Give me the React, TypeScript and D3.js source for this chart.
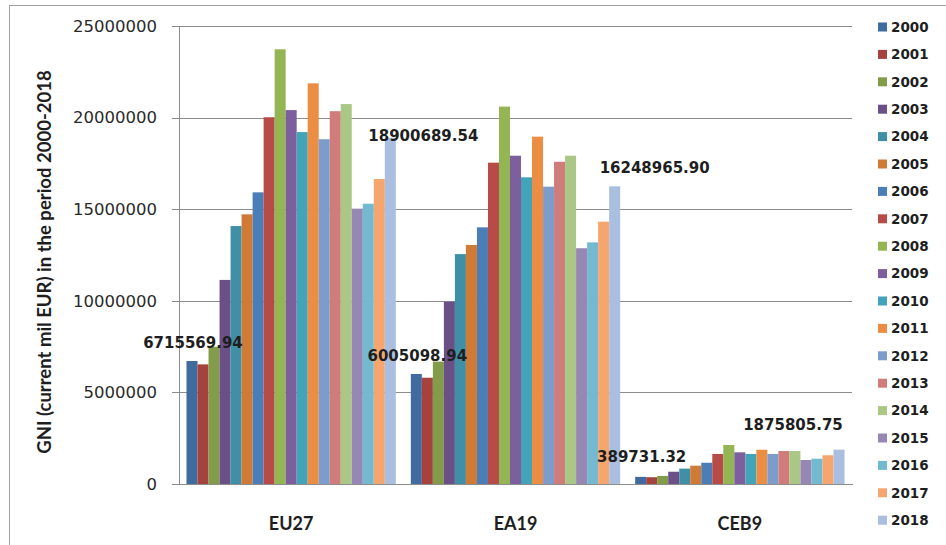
import React from "react";
import * as d3 from "d3";

const categories = ["EU27", "EA19", "CEB9"];
const years = ["2000","2001","2002","2003","2004","2005","2006","2007","2008","2009","2010","2011","2012","2013","2014","2015","2016","2017","2018"];
const eu27 = [6715569.94, 6530000, 7490000, 11140000, 14080000, 14720000, 15920000, 20020000, 23730000, 20410000, 19210000, 21870000, 18820000, 20350000, 20740000, 15030000, 15300000, 16650000, 18900689.54];
const ea19 = [6005098.94, 5800000, 6680000, 9950000, 12550000, 13050000, 14010000, 17540000, 20600000, 17920000, 16740000, 18960000, 16230000, 17590000, 17920000, 12870000, 13190000, 14320000, 16248965.90];
const ceb9 = [389731.32, 370000, 440000, 670000, 840000, 1000000, 1160000, 1640000, 2130000, 1730000, 1640000, 1870000, 1640000, 1800000, 1800000, 1310000, 1380000, 1570000, 1875805.75];
const seriesByCategory = [eu27, ea19, ceb9];
const yTicks = [0, 5000000, 10000000, 15000000, 20000000, 25000000];
const colors = ["#3f6b9e","#a6423e","#829c4a","#6b5088","#3f90a7","#cf7b36","#4b7db6","#b74b47","#94b553","#7e5f9e","#43a3b9","#eb8d43","#7c9dcc","#cf7c7a","#abc785","#9787b4","#73bad0","#f5a66f","#aabfdf"];
// labelled bars: [category index, year index]
const labelled: [number, number][] = [[0, 0], [0, 18], [1, 0], [1, 18], [2, 0], [2, 18]];
const labelShift: [number, number][] = [[1, -18], [33, -2], [1, -18], [40, -19], [1, -20], [-46, -25]];

export default function App() {
  const W = 946, H = 545;
  const x0 = 179, x1 = 852, yBase = 484, yTop = 26;
  const x = d3.scaleBand<string>().domain(categories).range([x0, x1]).padding(0);
  const xi = d3.scaleBand<string>().domain(years).range([0, x.bandwidth()]).paddingInner(0).paddingOuter(0.68);
  const y = d3.scaleLinear().domain([0, 25000000]).range([yBase, yTop]);
  const grid = "#8c8c8c";
  return (
    <svg width={W} height={H} style={{ position: "absolute", left: 0, top: 0, background: "#fff" }}>
      <rect x={9.5} y={5.5} width={1000} height={1000} fill="#fff" stroke="#a0a0a0" />
      {yTicks.map((t) => (
        <g key={t}>
          {t > 0 && <line x1={x0} x2={x1} y1={Math.round(y(t)) + 0.5} y2={Math.round(y(t)) + 0.5} stroke={grid} strokeWidth={1} />}
          <line x1={x0 - 7} x2={x0} y1={Math.round(y(t)) + 0.5} y2={Math.round(y(t)) + 0.5} stroke={grid} />
          <text x={157} y={y(t)} dy="0.35em" textAnchor="end" fontFamily="DejaVu Sans" fontSize={16.5} fill="#2a2a2a">{t}</text>
        </g>
      ))}
      {seriesByCategory.map((vals, ci) => (
        <g key={categories[ci]} transform={`translate(${x(categories[ci])},0)`}>
          {vals.map((v, yi) => (
            <rect key={years[yi]} x={xi(years[yi])} y={y(v)} width={xi.bandwidth()} height={yBase - y(v)} fill={colors[yi]} />
          ))}
        </g>
      ))}
      <line x1={x0 + 0.5} x2={x0 + 0.5} y1={yTop} y2={yBase} stroke={grid} />
      <line x1={x0} x2={x1 + 1} y1={yBase + 0.5} y2={yBase + 0.5} stroke={grid} />
      {labelled.map(([ci, yi], k) => {
        const v = seriesByCategory[ci][yi];
        const cx = (x(categories[ci]) as number) + (xi(years[yi]) as number) + xi.bandwidth() / 2 + labelShift[k][0];
        const cy = y(v) + labelShift[k][1];
        return (
          <text key={k} x={cx} y={cy} dy="0.35em" textAnchor="middle" fontFamily="DejaVu Sans" fontWeight="bold" fontSize={15} fill="#1e1e1e">{v.toFixed(2)}</text>
        );
      })}
      {categories.map((c) => (
        <text key={c} x={(x(c) as number) + x.bandwidth() / 2} y={524} dy="0.35em" textAnchor="middle" fontFamily="Lato" fontWeight="bold" fontSize={18} fill="#1e1e1e">{c}</text>
      ))}
      <text transform="translate(45,262) rotate(-90)" textAnchor="middle" dy="0.35em" fontFamily="Lato" fontWeight="bold" fontSize={18.5} fill="#1e1e1e">GNI (current mil EUR) in the period 2000-2018</text>
      {years.map((yr, i) => {
        const cy = 27 + i * 27.4;
        return (
          <g key={yr}>
            <rect x={878} y={cy - 4.5} width={9} height={9} fill={colors[i]} />
            <text x={891} y={cy} dy="0.35em" fontFamily="DejaVu Sans" fontWeight="bold" fontSize={13.5} fill="#1e1e1e">{yr}</text>
          </g>
        );
      })}
    </svg>
  );
}
